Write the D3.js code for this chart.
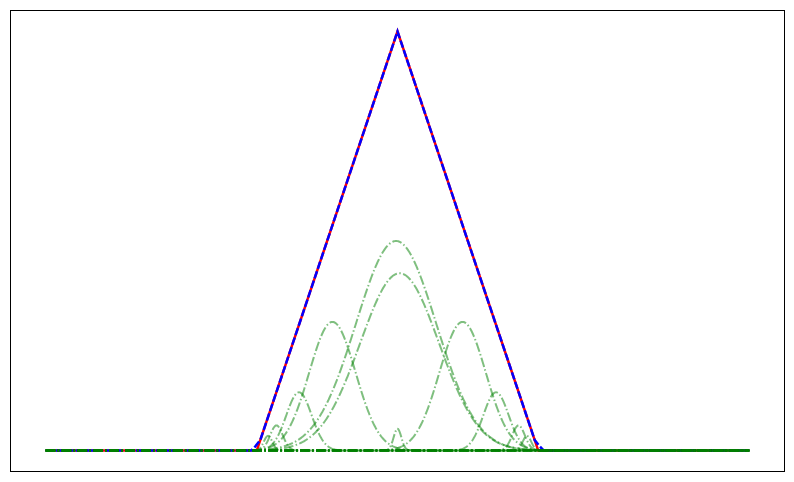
<!DOCTYPE html>
<html>
<head>
<meta charset="utf-8">
<script src="https://cdn.jsdelivr.net/npm/d3@7"></script>
<style>
  html, body { margin: 0; padding: 0; background: #fff; }
  svg { display: block; }
</style>
</head>
<body>
<svg id="chart" width="794" height="482"></svg>
<script>
// ---- data ----
// target triangle (red) vertices
const targetX = [-5, -2, 0, 2, 5];
const targetY = [0, 0, 1, 0, 0];
// fitted sum (blue dashed) vertices
const fitX = [-5, -2.08, -2.02, -1.95, 0, 1.95, 2.02, 2.08, 5];
const fitY = [0, 0, 0.01, 0.025, 1, 0.025, 0.01, 0, 0];
// gaussian components (green dash-dot): center, amplitude, width
const compCenter = [-0.02, 0.03, -0.925, 0.925, -1.40, 1.40, -1.72, 1.72, -1.84, 1.84, 0.0, -4.5, -3.5, -2.6, 2.6, 3.5, 4.5];
const compAmp    = [0.50, 0.423, 0.307, 0.307, 0.139, 0.139, 0.06, 0.06, 0.035, 0.035, 0.052, 0, 0, 0, 0, 0, 0];
const compSigma  = [0.57, 0.56, 0.33, 0.33, 0.18, 0.18, 0.09, 0.09, 0.06, 0.06, 0.055, 0.3, 0.3, 0.3, 0.3, 0.3, 0.3];
const xDomain = [-5, 5];
const yDomain = [0, 1];

// ---- layout ----
const svg = d3.select("#chart");
const L = 10.5, R = 784.5, T = 10.5, B = 471.5;
const xPad = (xDomain[1] - xDomain[0]) * 0.05;
const yPad = (yDomain[1] - yDomain[0]) * 0.05;
const x = d3.scaleLinear().domain([xDomain[0] - xPad, xDomain[1] + xPad]).range([L, R]);
const y = d3.scaleLinear().domain([yDomain[0] - yPad, yDomain[1] + yPad]).range([B, T]);

const line = d3.line().x(d => x(d[0])).y(d => y(d[1]));

const g = svg.append("g");

// red target
g.append("path")
  .datum(targetX.map((v, i) => [v, targetY[i]]))
  .attr("d", line)
  .attr("fill", "none")
  .attr("stroke", "#ff0000")
  .attr("stroke-width", 2.5);

// blue dashed fit
g.append("path")
  .datum(fitX.map((v, i) => [v, fitY[i]]))
  .attr("d", line)
  .attr("fill", "none")
  .attr("stroke", "#0000ff")
  .attr("stroke-width", 2.5)
  .attr("stroke-dasharray", "7.5,2.5");

// green components
const xs = d3.range(0, 1001).map(i => xDomain[0] + (xDomain[1] - xDomain[0]) * i / 1000);
compCenter.forEach((c, k) => {
  const a = compAmp[k], s = compSigma[k];
  const pts = xs.map(v => [v, a * Math.exp(-((v - c) * (v - c)) / (2 * s * s))]);
  g.append("path")
    .datum(pts)
    .attr("d", line)
    .attr("fill", "none")
    .attr("stroke", "#008000")
    .attr("stroke-opacity", 0.5)
    .attr("stroke-width", 2)
    .attr("stroke-dasharray", "9.6,2.4,1.5,2.4");
});

// frame
svg.append("rect")
  .attr("x", L).attr("y", T)
  .attr("width", R - L).attr("height", B - T)
  .attr("fill", "none")
  .attr("stroke", "#000")
  .attr("stroke-width", 1);
</script>
</body>
</html>
